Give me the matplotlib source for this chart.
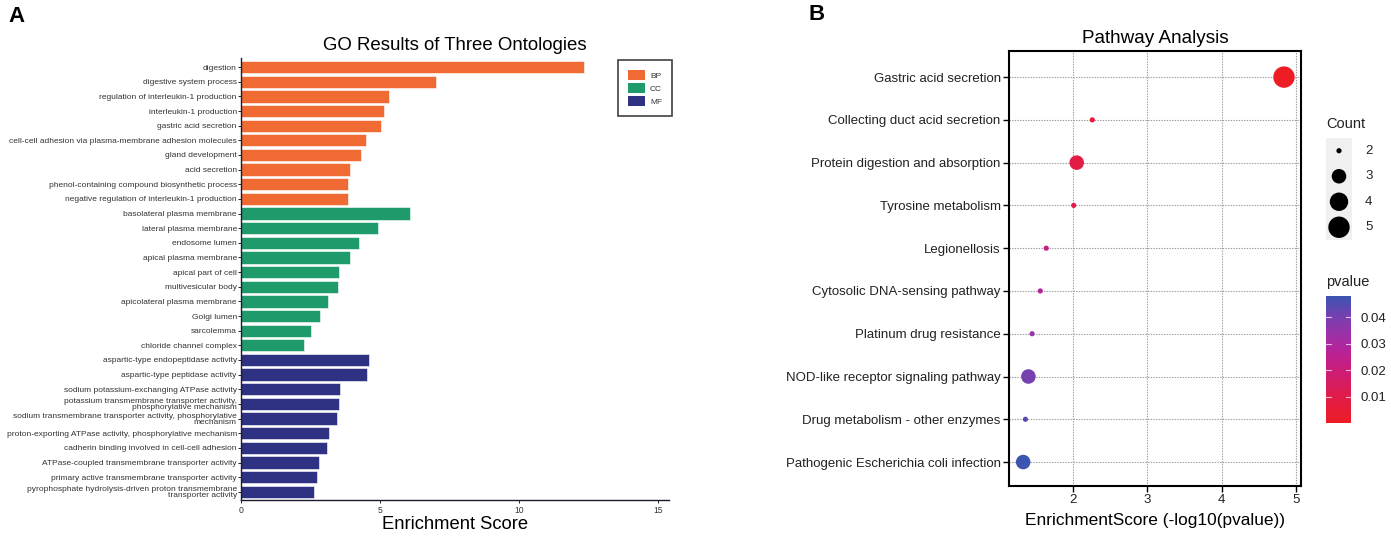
import numpy as np
import matplotlib
matplotlib.use("Agg")
import matplotlib.pyplot as plt
from matplotlib.patches import Patch
from matplotlib.colors import LinearSegmentedColormap, Normalize

plt.rcParams['font.family'] = ['Liberation Sans', 'DejaVu Sans']

# ---------------- Panel A data ----------------
go_terms = [
    "digestion", "digestive system process", "regulation of interleukin-1 production",
    "interleukin-1 production", "gastric acid secretion",
    "cell-cell adhesion via plasma-membrane adhesion molecules", "gland development",
    "acid secretion", "phenol-containing compound biosynthetic process",
    "negative regulation of interleukin-1 production",
    "basolateral plasma membrane", "lateral plasma membrane", "endosome lumen",
    "apical plasma membrane", "apical part of cell", "multivesicular body",
    "apicolateral plasma membrane", "Golgi lumen", "sarcolemma", "chloride channel complex",
    "aspartic-type endopeptidase activity", "aspartic-type peptidase activity",
    "sodium potassium-exchanging ATPase activity",
    "potassium transmembrane transporter activity,\nphosphorylative mechanism",
    "sodium transmembrane transporter activity, phosphorylative\nmechanism",
    "proton-exporting ATPase activity, phosphorylative mechanism",
    "cadherin binding involved in cell-cell adhesion",
    "ATPase-coupled transmembrane transporter activity",
    "primary active transmembrane transporter activity",
    "pyrophosphate hydrolysis-driven proton transmembrane\ntransporter activity",
]
go_scores = [12.34, 7.01, 5.33, 5.14, 5.02, 4.48, 4.30, 3.92, 3.86, 3.84,
             6.07, 4.94, 4.23, 3.93, 3.51, 3.49, 3.12, 2.84, 2.51, 2.28,
             4.60, 4.54, 3.55, 3.53, 3.45, 3.15, 3.10, 2.80, 2.72, 2.64]
go_ontology = ["BP"] * 10 + ["CC"] * 10 + ["MF"] * 10
onto_levels = ["BP", "CC", "MF"]
onto_colors = {"BP": "#F06A34", "CC": "#1F9A6A", "MF": "#2F3182"}
go_xticks = [0, 5, 10, 15]

# ---------------- Panel B data ----------------
pathways = [
    "Gastric acid secretion", "Collecting duct acid secretion",
    "Protein digestion and absorption", "Tyrosine metabolism", "Legionellosis",
    "Cytosolic DNA-sensing pathway", "Platinum drug resistance",
    "NOD-like receptor signaling pathway", "Drug metabolism - other enzymes",
    "Pathogenic Escherichia coli infection",
]
path_scores = [4.84, 2.26, 2.05, 2.01, 1.64, 1.56, 1.45, 1.40, 1.36, 1.33]
path_counts = [5, 2, 3, 2, 2, 2, 2, 3, 2, 3]
path_pvalues = [1.4e-5, 0.0055, 0.0089, 0.0098, 0.023, 0.0275, 0.035, 0.040, 0.044, 0.048]
count_levels = [2, 3, 4, 5]
pval_ticks = [0.01, 0.02, 0.03, 0.04]
path_xticks = [2, 3, 4, 5]

W, H = 1391, 540
fig = plt.figure(figsize=(W / 100, H / 100), dpi=100)

def rect(x0, y0, x1, y1):
    return [x0 / W, 1 - y1 / H, (x1 - x0) / W, (y1 - y0) / H]

# ---------------- Panel A ----------------
axA = fig.add_axes(rect(241, 58, 669, 500))
ypos = np.arange(len(go_terms))
cols = [onto_colors[o] for o in go_ontology]
axA.barh(ypos, go_scores, height=0.84, color=cols, edgecolor="white", linewidth=0.4)
axA.set_ylim(len(go_terms) - 0.44, -0.62)
axA.set_xlim(0, 15.4)
axA.set_yticks(ypos)
axA.set_yticklabels(go_terms, fontsize=6.05, color="#333333", linespacing=0.82)
axA.set_xticks(go_xticks)
axA.set_xticklabels([str(t) for t in go_xticks], fontsize=6.2, color="#333333")
axA.tick_params(axis="y", length=2, width=0.6, pad=1)
axA.tick_params(axis="x", length=2, width=0.6, pad=2)
for s in ["top", "right"]:
    axA.spines[s].set_visible(False)
for s in ["left", "bottom"]:
    axA.spines[s].set_linewidth(1.0)
    axA.spines[s].set_color("#1a1a2e")
axA.set_title("GO Results of Three Ontologies", fontsize=13.4, pad=6)
axA.set_xlabel("Enrichment Score", fontsize=13.2, labelpad=1)
handles = [Patch(facecolor=onto_colors[o], edgecolor="none", label=o) for o in onto_levels]
legA = axA.legend(handles=handles, loc="upper right", bbox_to_anchor=(1.007, 0.9955),
                  fontsize=6, frameon=True, fancybox=False, edgecolor="#111111",
                  handlelength=2.0, handleheight=1.45, borderpad=1.2, labelspacing=0.4,
                  handletextpad=0.6, borderaxespad=0)
legA.get_frame().set_linewidth(1.2)
for t in legA.get_texts():
    t.set_color("#333333")

fig.text(8 / W, 1 - 16 / H, "A", fontsize=16, fontweight="bold", va="center", ha="left")

# ---------------- Panel B ----------------
cmap = LinearSegmentedColormap.from_list(
    "pv", [(0.0, "#EE1C25"), (0.2, "#E21C48"), (0.42, "#CC1E7A"), (0.58, "#B5249A"),
           (0.72, "#9834AA"), (0.85, "#7341B0"), (1.0, "#3C55B1")])
norm = Normalize(vmin=min(path_pvalues), vmax=max(path_pvalues))

axB = fig.add_axes(rect(1009, 51, 1301, 486))
yb = np.arange(len(pathways))

def count_to_size(c):
    d_px = 5.2 + 16.2 * np.sqrt((np.asarray(c, float) - 2) / 3.0)
    return (d_px * 0.72) ** 2

axB.scatter(path_scores, yb, s=count_to_size(path_counts), c=path_pvalues,
            cmap=cmap, norm=norm, edgecolors="none", zorder=3)
axB.set_ylim(len(pathways) - 0.44, -0.61)
axB.set_xlim(1.139, 5.069)
axB.set_yticks(yb)
axB.set_yticklabels(pathways, fontsize=9.5, color="#222222")
axB.set_xticks(path_xticks)
axB.set_xticklabels([str(t) for t in path_xticks], fontsize=9.5, color="#222222")
axB.tick_params(axis="both", length=4, width=1.0, pad=2)
axB.grid(True, color="#9a9a9a", linestyle=(0, (1.2, 1.2)), linewidth=0.8, zorder=0)
axB.set_axisbelow(True)
for s in axB.spines.values():
    s.set_linewidth(1.5)
    s.set_color("black")
axB.set_title("Pathway Analysis", fontsize=13.6, pad=6)
axB.set_xlabel("EnrichmentScore (-log10(pvalue))", fontsize=12.4, labelpad=5)

fig.text(808 / W, 1 - 14 / H, "B", fontsize=16, fontweight="bold", va="center", ha="left")

# Count legend
axL = fig.add_axes(rect(1326, 138, 1352, 240))
axL.set_facecolor("#f0f0f0")
axL.scatter([0] * len(count_levels), np.arange(len(count_levels)),
            s=count_to_size(count_levels), color="black", edgecolors="none")
axL.set_xlim(-0.5, 0.5)
axL.set_ylim(len(count_levels) - 0.5, -0.5)
axL.set_xticks([])
axL.set_yticks([])
for s in axL.spines.values():
    s.set_visible(False)
for i, c in enumerate(count_levels):
    axL.text(1.0, i, str(c), transform=axL.transData, fontsize=9.5, va="center",
             ha="left", color="#222222", clip_on=False)
fig.text(1326 / W, 1 - 124 / H, "Count", fontsize=10.5, va="center", ha="left", color="#222222")

# Colorbar
axC = fig.add_axes(rect(1326, 296, 1351, 423))
grad = np.linspace(norm.vmin, norm.vmax, 256).reshape(-1, 1)
axC.imshow(grad, aspect="auto", cmap=cmap, norm=norm, origin="lower",
           extent=[0, 1, norm.vmin, norm.vmax])
axC.set_xticks([])
axC.yaxis.tick_right()
axC.set_yticks(pval_ticks)
axC.set_yticklabels([f"{t:.2f}" for t in pval_ticks], fontsize=9.5, color="#222222")
axC.tick_params(axis="y", length=0, pad=7)
for t in pval_ticks:
    axC.plot([0, 0.2], [t, t], color="white", lw=0.8, alpha=0.7)
    axC.plot([0.8, 1], [t, t], color="white", lw=0.8, alpha=0.7)
axC.set_xlim(0, 1)
axC.set_ylim(norm.vmin, norm.vmax)
for s in axC.spines.values():
    s.set_visible(False)
fig.text(1326 / W, 1 - 282 / H, "pvalue", fontsize=10.5, va="center", ha="left", color="#222222")

fig.savefig("out.png", dpi=100)
